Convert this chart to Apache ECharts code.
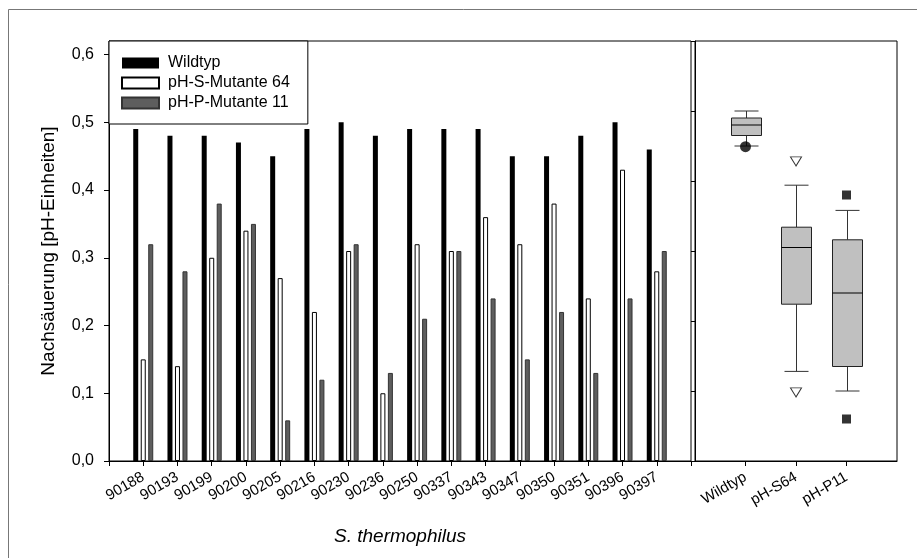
<!DOCTYPE html>
<head>
    <meta charset="utf-8">
    <title>Nachsäuerung</title>
    <style>
        html, body { margin: 0; padding: 0; background: #fff; }
    </style>
</head>
<body>
<div id="main" style="width:917px;height:558px"></div>
<script src="https://cdn.jsdelivr.net/npm/echarts@6/dist/echarts.min.js"></script>
<script type="text/javascript">
// Stämme (x-Achse links)
var staemme = ['90188', '90193', '90199', '90200', '90205', '90216', '90230', '90236',
    '90250', '90337', '90343', '90347', '90350', '90351', '90396', '90397'];
var wildtyp = [0.49, 0.48, 0.48, 0.47, 0.45, 0.49, 0.50, 0.48, 0.49, 0.49, 0.49, 0.45, 0.45, 0.48, 0.50, 0.46];
var mutanteS64 = [0.15, 0.14, 0.30, 0.34, 0.27, 0.22, 0.31, 0.10, 0.32, 0.31, 0.36, 0.32, 0.38, 0.24, 0.43, 0.28];
var mutanteP11 = [0.32, 0.28, 0.38, 0.35, 0.06, 0.12, 0.32, 0.13, 0.21, 0.31, 0.24, 0.15, 0.22, 0.13, 0.24, 0.31];

// Boxplots rechts: [Index, unterer Whisker, Q1, Median, Q3, oberer Whisker]
var boxGruppen = ['Wildtyp', 'pH-S64', 'pH-P11'];
var boxWerte = [
    [1, 0.45, 0.465, 0.48, 0.49, 0.50],
    [2, 0.128, 0.224, 0.305, 0.334, 0.394],
    [3, 0.10, 0.135, 0.24, 0.316, 0.358]
];
var ausreisserWT = [[1, 0.449]];
var ausreisserS64 = [[2, 0.428], [2, 0.098]];
var ausreisserP11 = [[3, 0.38], [3, 0.06]];

var yTicksLinks = [0, 0.1, 0.2, 0.3, 0.4, 0.5, 0.6];

var font = 'Liberation Sans, Arial, sans-serif';

// leere Plätze am Rand, damit die Gruppen auf den Ticks liegen
var xLinks = [''].concat(staemme, ['']);
function pad(arr) { return ['-'].concat(arr, ['-']); }
var xRechts = [''].concat(boxGruppen, ['']);

var myChart = echarts.init(document.getElementById('main'));

var option = {
    backgroundColor: '#fff',
    animation: false,
    textStyle: { fontFamily: font, color: '#000' },
    graphic: [{
        type: 'rect',
        shape: { x: 8.5, y: 9.5, width: 1000, height: 1000 },
        style: { fill: 'none', stroke: '#777', lineWidth: 1 },
        silent: true
    }],
    legend: {
        orient: 'vertical',
        left: 109,
        top: 41,
        padding: [14, 18, 13, 12],
        itemWidth: 37,
        itemHeight: 11,
        itemGap: 4,
        backgroundColor: '#fff',
        borderColor: '#000',
        borderWidth: 1,
        icon: 'rect',
        textStyle: { fontSize: 16, fontFamily: font, color: '#000', padding: [0, 0, 0, 4] },
        data: ['Wildtyp', 'pH-S-Mutante 64', 'pH-P-Mutante 11']
    },
    grid: [
        { left: 109, top: 41, width: 582, height: 420, show: true, borderColor: '#000', borderWidth: 1, backgroundColor: 'transparent' },
        { left: 695, top: 41, width: 202, height: 420, show: true, borderColor: '#000', borderWidth: 1, backgroundColor: 'transparent' }
    ],
    xAxis: [
        {
            gridIndex: 0,
            type: 'category',
            data: xLinks,
            boundaryGap: false,
            axisLine: { lineStyle: { color: '#000' } },
            axisTick: { show: true, length: 5, lineStyle: { color: '#000' }, interval: 0 },
            axisLabel: { interval: 0, rotate: 30, fontSize: 15, color: '#000', fontFamily: font, margin: 15 },
            name: 'S. thermophilus',
            nameLocation: 'middle',
            nameGap: 66,
            nameTextStyle: { fontSize: 19, fontStyle: 'italic', color: '#000', fontFamily: font }
        },
        {
            gridIndex: 1,
            type: 'category',
            data: xRechts,
            boundaryGap: false,
            axisLine: { lineStyle: { color: '#000' } },
            axisTick: { show: true, length: 5, lineStyle: { color: '#000' }, interval: function (i) { return i > 0 && i < 4; } },
            axisLabel: { interval: 0, rotate: 30, fontSize: 15, color: '#000', fontFamily: font, margin: 15 }
        }
    ],
    yAxis: [
        {
            gridIndex: 0,
            type: 'value',
            min: 0,
            max: 0.62,
            interval: 0.1,
            splitLine: { show: false },
            axisLine: { show: true, lineStyle: { color: '#000' } },
            axisTick: { show: true, length: 5, lineStyle: { color: '#000' }, customValues: yTicksLinks },
            axisLabel: {
                fontSize: 16, color: '#000', fontFamily: font, margin: 15,
                customValues: yTicksLinks,
                formatter: function (v) { return v.toFixed(1).replace('.', ','); }
            },
            name: 'Nachsäuerung [pH-Einheiten]',
            nameLocation: 'middle',
            nameGap: 51,
            nameTextStyle: { fontSize: 19, color: '#000', fontFamily: font }
        },
        {
            gridIndex: 1,
            type: 'value',
            min: 0,
            max: 0.6,
            interval: 0.1,
            splitLine: { show: false },
            axisLine: { show: true, lineStyle: { color: '#000' } },
            axisTick: { show: true, length: 4, lineStyle: { color: '#000' } },
            axisLabel: { show: false }
        }
    ],
    series: [
        {
            name: 'Wildtyp',
            type: 'bar',
            xAxisIndex: 0, yAxisIndex: 0,
            data: pad(wildtyp),
            barWidth: 5,
            barGap: '50%',
            itemStyle: { color: '#000' }
        },
        {
            name: 'pH-S-Mutante 64',
            type: 'bar',
            xAxisIndex: 0, yAxisIndex: 0,
            data: pad(mutanteS64),
            barWidth: 5,
            barGap: '50%',
            itemStyle: { color: '#fff', borderColor: '#000', borderWidth: 1 }
        },
        {
            name: 'pH-P-Mutante 11',
            type: 'bar',
            xAxisIndex: 0, yAxisIndex: 0,
            data: pad(mutanteP11),
            barWidth: 5,
            barGap: '50%',
            itemStyle: { color: '#5e5e5e', borderColor: '#333', borderWidth: 1 }
        },
        {
            type: 'custom',
            xAxisIndex: 1, yAxisIndex: 1,
            data: boxWerte,
            renderItem: function (params, api) {
                var x = api.value(0);
                var lo = api.coord([x, api.value(1)]);
                var q1 = api.coord([x, api.value(2)]);
                var med = api.coord([x, api.value(3)]);
                var q3 = api.coord([x, api.value(4)]);
                var hi = api.coord([x, api.value(5)]);
                var cx = Math.round(lo[0]) + 0.5;
                var bw = 15, cw = 12;
                var ls = { stroke: '#333', lineWidth: 1 };
                return {
                    type: 'group',
                    children: [
                        { type: 'line', shape: { x1: cx, y1: lo[1], x2: cx, y2: q1[1] }, style: ls },
                        { type: 'line', shape: { x1: cx, y1: q3[1], x2: cx, y2: hi[1] }, style: ls },
                        { type: 'line', shape: { x1: cx - cw, y1: lo[1], x2: cx + cw, y2: lo[1] }, style: ls },
                        { type: 'line', shape: { x1: cx - cw, y1: hi[1], x2: cx + cw, y2: hi[1] }, style: ls },
                        { type: 'rect', shape: { x: cx - bw, y: q3[1], width: 2 * bw, height: q1[1] - q3[1] },
                          style: { fill: '#c0c0c0', stroke: '#222', lineWidth: 1 } },
                        { type: 'line', shape: { x1: cx - bw, y1: med[1], x2: cx + bw, y2: med[1] }, style: { stroke: '#000', lineWidth: 1 } }
                    ]
                };
            }
        },
        {
            type: 'scatter',
            xAxisIndex: 1, yAxisIndex: 1,
            data: ausreisserWT,
            symbol: 'circle',
            symbolSize: 11,
            itemStyle: { color: '#000' },
            z: 5
        },
        {
            type: 'scatter',
            xAxisIndex: 1, yAxisIndex: 1,
            data: ausreisserS64,
            symbol: 'triangle',
            symbolRotate: 180,
            symbolSize: [11, 9],
            itemStyle: { color: '#fff', borderColor: '#000', borderWidth: 1 },
            z: 5
        },
        {
            type: 'scatter',
            xAxisIndex: 1, yAxisIndex: 1,
            data: ausreisserP11,
            symbol: 'rect',
            symbolSize: 9,
            itemStyle: { color: '#000' },
            z: 5
        }
    ]
};

myChart.setOption(option);
</script>
</body>
